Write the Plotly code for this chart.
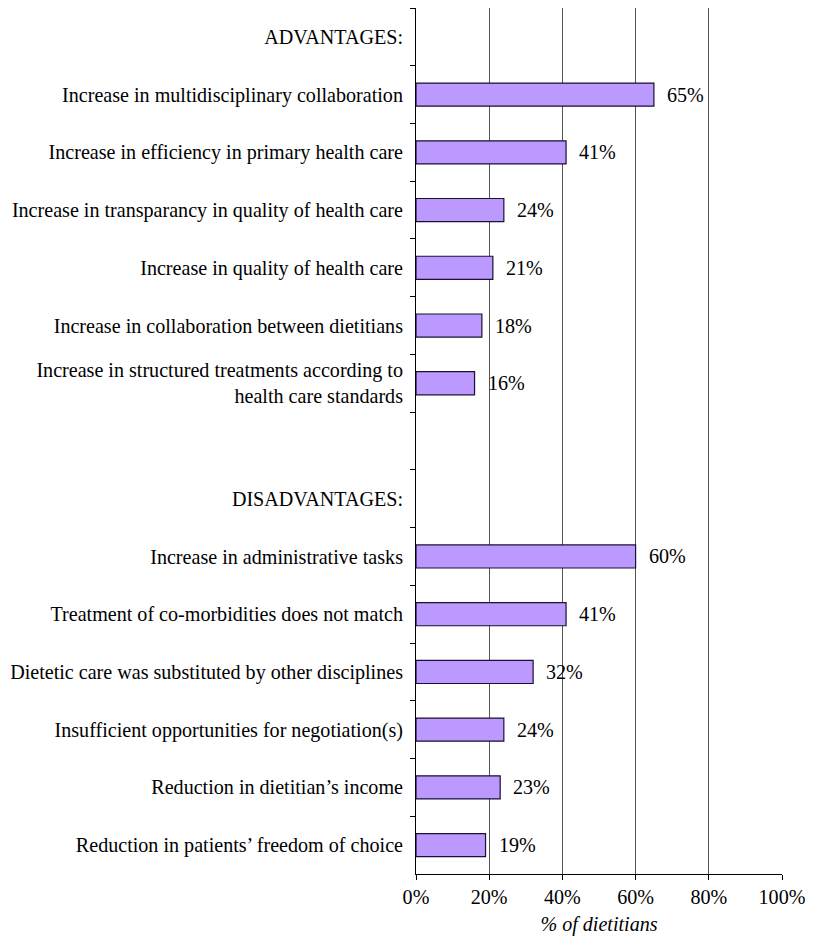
import plotly.graph_objects as go

labels = [
    "ADVANTAGES:",
    "Increase in multidisciplinary collaboration",
    "Increase in efficiency in primary health care",
    "Increase in transparancy in quality of health care",
    "Increase in quality of health care",
    "Increase in collaboration between dietitians",
    "Increase in structured treatments according to<br>health care standards",
    " ",
    "DISADVANTAGES:",
    "Increase in administrative tasks",
    "Treatment of co-morbidities does not match",
    "Dietetic care was substituted by other disciplines",
    "Insufficient opportunities for negotiation(s)",
    "Reduction in dietitian\u2019s income",
    "Reduction in patients\u2019 freedom of choice",
]
values = [None, 65, 41, 24, 21, 18, 16, None, None, 60, 41, 32, 24, 23, 19]

font = "Liberation Serif"
fsize = 20.1

fig = go.Figure()
fig.add_trace(go.Bar(
    x=values, y=labels, orientation="h",
    width=0.4,
    marker=dict(color="#bb99ff", line=dict(color="#1a1033", width=1.2)),
    hoverinfo="skip",
))

# value labels to the right of each bar
for lab, v in zip(labels, values):
    if v is None:
        continue
    fig.add_annotation(x=v, y=lab, text=f"{v}%", showarrow=False,
                       xanchor="left", xshift=11,
                       font=dict(family=font, size=fsize, color="black"))

# page body adds an 8px margin all round, so keep the figure inside the window
fig.update_layout(
    width=807, height=929,
    margin=dict(l=408, r=33, t=0, b=63),
    plot_bgcolor="white", paper_bgcolor="white",
    font=dict(family=font, size=fsize, color="black"),
    showlegend=False,
)
fig.update_xaxes(
    range=[0, 100], dtick=20, ticksuffix="%",
    showgrid=True, gridcolor="#555555", gridwidth=1,
    showline=True, linecolor="black", linewidth=1,
    ticks="outside", ticklen=5, tickcolor="black",
    zeroline=False, automargin=False,
    title=dict(text="<i>% of dietitians</i>", standoff=9,
               font=dict(family=font, size=fsize)),
)
fig.update_yaxes(
    type="category", categoryorder="array", categoryarray=labels,
    autorange="reversed", automargin=False,
    showline=True, linecolor="black", linewidth=1,
    ticks="outside", ticklen=5, tickcolor="black", tickson="boundaries",
    showgrid=False, ticklabelstandoff=8,
)

fig.write_html("out.html")
